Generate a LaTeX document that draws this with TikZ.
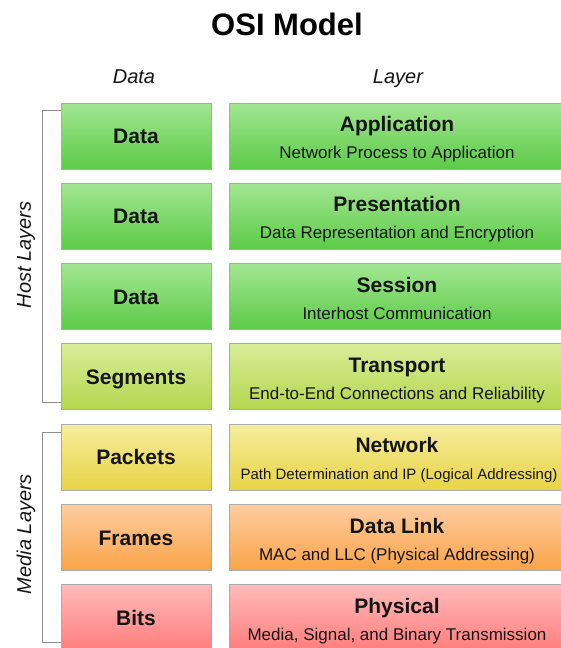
\documentclass[tikz,border=0pt]{standalone}
\usepackage{fontspec}
\setmainfont{Liberation Sans}
\usetikzlibrary{positioning}

\definecolor{greentop}{HTML}{A2E692}
\definecolor{greenbot}{HTML}{5CCB47}
\definecolor{segtop}{HTML}{D8ED98}
\definecolor{segbot}{HTML}{B4D64E}
\definecolor{pactop}{HTML}{F6EC9E}
\definecolor{pacbot}{HTML}{E8D445}
\definecolor{fratop}{HTML}{FDCCA0}
\definecolor{frabot}{HTML}{FAA448}
\definecolor{bittop}{HTML}{FFBABA}
\definecolor{bitbot}{HTML}{FF7D7D}
\definecolor{rimgray}{HTML}{ABABAB}
\definecolor{brackgray}{HTML}{8E8E8E}
\definecolor{inkdark}{HTML}{151515}

\begin{document}
\begin{tikzpicture}[x=1pt,y=-1pt]

\tikzset{databox/.style={draw=rimgray,line width=0.9pt,minimum width=150pt,minimum height=66pt,
  inner sep=0pt,text height=15pt,text depth=0pt,text=inkdark,
  font=\fontsize{21}{25}\selectfont\bfseries}}
\tikzset{laybox/.style={draw=rimgray,line width=0.9pt,minimum width=340pt,minimum height=66pt,
  inner sep=0pt}}
\tikzset{laytitle/.style={anchor=base,inner sep=0pt,text=inkdark,
  font=\fontsize{21}{25}\selectfont\bfseries}}
\tikzset{laysub/.style={anchor=base,inner sep=0pt,text=inkdark,
  font=\fontsize{17}{20}\selectfont}}
\tikzset{head/.style={anchor=base,inner sep=0pt,text=inkdark,
  font=\fontsize{20}{24}\selectfont\itshape}}
\tikzset{bracket/.style={draw=brackgray,line width=1.4pt}}

\useasboundingbox (0,0) rectangle (561,648);

%title
\node [anchor=base,inner sep=0pt,font=\fontsize{31}{36}\selectfont\bfseries] (title) at (287,35) {OSI Model};

%column heads
\node [head] (datahead) at (134,83.5) {Data};
\node [head] (layhead) at (398,83.5) {Layer};

%data column
\node [databox,top color=greentop,bottom color=greenbot] (d1) at (136,136) {Data};
\node [databox,top color=greentop,bottom color=greenbot,below=13.4pt of d1] (d2) {Data};
\node [databox,top color=greentop,bottom color=greenbot,below=13.4pt of d2] (d3) {Data};
\node [databox,top color=segtop,bottom color=segbot,below=13.4pt of d3] (seg) {Segments};
\node [databox,top color=pactop,bottom color=pacbot,below=13.4pt of seg] (pac) {Packets};
\node [databox,top color=fratop,bottom color=frabot,below=13.4pt of pac] (fra) {Frames};
\node [databox,top color=bittop,bottom color=bitbot,below=13.4pt of fra] (bit) {Bits};

%layer column
\node [laybox,top color=greentop,bottom color=greenbot,right=17.1pt of d1] (app) {};
\node [laybox,top color=greentop,bottom color=greenbot,right=17.1pt of d2] (pres) {};
\node [laybox,top color=greentop,bottom color=greenbot,right=17.1pt of d3] (sess) {};
\node [laybox,top color=segtop,bottom color=segbot,right=17.1pt of seg] (trans) {};
\node [laybox,top color=pactop,bottom color=pacbot,right=17.1pt of pac] (net) {};
\node [laybox,top color=fratop,bottom color=frabot,right=17.1pt of fra] (link) {};
\node [laybox,top color=bittop,bottom color=bitbot,right=17.1pt of bit] (phys) {};

%layer names
\node [laytitle] (appname) at ([xshift=-2pt,yshift=4.5pt]app.center) {Application};
\node [laysub] (apptext) at ([xshift=-2pt,yshift=-22.5pt]app.center) {Network Process to Application};
\node [laytitle] (presname) at ([xshift=-2pt,yshift=4.5pt]pres.center) {Presentation};
\node [laysub] (prestext) at ([xshift=-2pt,yshift=-22.5pt]pres.center) {Data Representation and Encryption};
\node [laytitle] (sessname) at ([xshift=-2pt,yshift=4.5pt]sess.center) {Session};
\node [laysub] (sesstext) at ([xshift=-2pt,yshift=-22.5pt]sess.center) {Interhost Communication};
\node [laytitle] (transname) at ([xshift=-2pt,yshift=4.5pt]trans.center) {Transport};
\node [laysub] (transtext) at ([xshift=-2pt,yshift=-22.5pt]trans.center) {End-to-End Connections and Reliability};
\node [laytitle] (netname) at ([xshift=-2pt,yshift=4.5pt]net.center) {Network};
\node [laysub,font=\fontsize{15}{18}\selectfont] (nettext) at ([xshift=0pt,yshift=-22.5pt]net.center) {Path Determination and IP (Logical Addressing)};
\node [laytitle] (linkname) at ([xshift=-2pt,yshift=4.5pt]link.center) {Data Link};
\node [laysub] (linktext) at ([xshift=-2pt,yshift=-22.5pt]link.center) {MAC and LLC (Physical Addressing)};
\node [laytitle] (physname) at ([xshift=-2pt,yshift=4.5pt]phys.center) {Physical};
\node [laysub] (phystext) at ([xshift=-2pt,yshift=-22.5pt]phys.center) {Media, Signal, and Binary Transmission};

%host bracket
\draw [bracket] ([yshift=-8pt]d1.north west) -- ++(-18pt,0) |- ([yshift=8pt]seg.south west);
\node [rotate=90,inner sep=0pt,text=inkdark,font=\fontsize{20}{24}\selectfont\itshape] (host) at (26,255) {Host Layers};

%media bracket
\draw [bracket] ([yshift=-9pt]pac.north west) -- ++(-18pt,0) |- ([yshift=9pt]bit.south west);
\node [rotate=90,inner sep=0pt,text=inkdark,font=\fontsize{20}{24}\selectfont\itshape] (media) at (26,534) {Media Layers};

\end{tikzpicture}
\end{document}
